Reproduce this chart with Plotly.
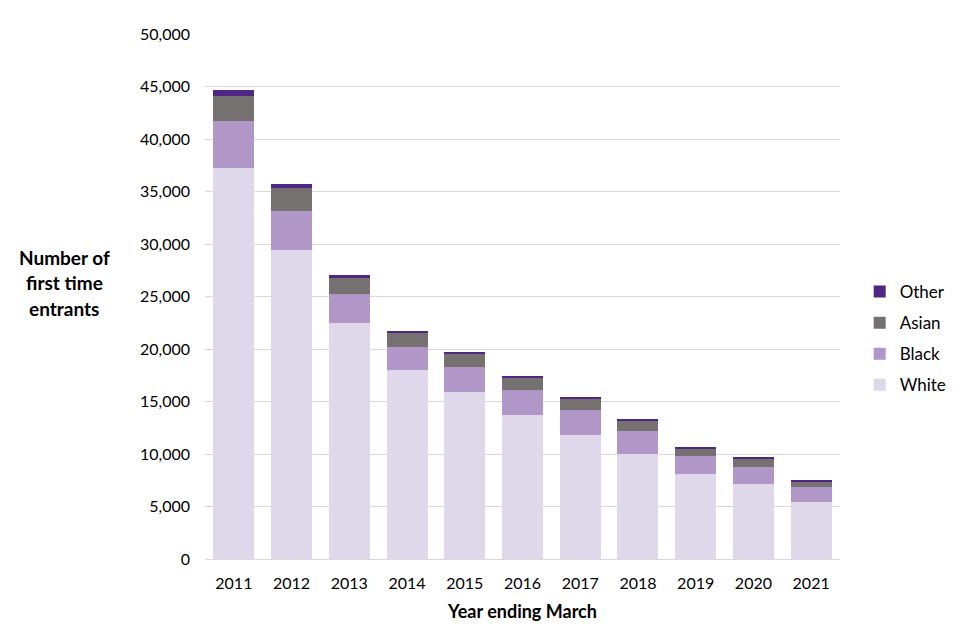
import plotly.graph_objects as go

years = ["2011", "2012", "2013", "2014", "2015", "2016", "2017", "2018", "2019", "2020", "2021"]
white = [37200, 29400, 22500, 18000, 15900, 13700, 11800, 10000, 8100, 7150, 5450]
black = [4500, 3700, 2750, 2200, 2400, 2400, 2400, 2200, 1700, 1600, 1400]
asian = [2400, 2200, 1500, 1350, 1250, 1150, 1050, 950, 750, 750, 550]
other = [550, 400, 300, 200, 200, 200, 200, 100, 100, 200, 100]

series = [("White", white, "#DFD7EA", 4), ("Black", black, "#B196C8", 3),
          ("Asian", asian, "#767171", 2), ("Other", other, "#4F2683", 1)]

FONT = "Lato"
fig = go.Figure()
for name, vals, col, rank in series:
    fig.add_trace(go.Bar(x=years, y=vals, name=name, marker_color=col,
                         marker_line_width=0, legendgroup=name, legendrank=rank))

fig.update_layout(
    width=960, height=640,
    barmode="stack", bargap=0.29,
    plot_bgcolor="white", paper_bgcolor="white",
    margin=dict(l=197, r=128, t=26, b=89),
    font=dict(family=FONT, size=16, color="#000000"),
    showlegend=True,
    legend=dict(traceorder="grouped", tracegroupgap=6,
                x=1.031, xanchor="left", y=0.42, yanchor="middle",
                font=dict(size=17), itemwidth=30),
    xaxis=dict(showgrid=False, showline=True, linecolor="#D9D9D9",
               ticks="", tickfont=dict(size=16), ticklabelstandoff=10,
               title=dict(text="<b>Year ending March</b>", font=dict(size=18), standoff=14)),
    yaxis=dict(range=[0, 50000], dtick=5000, tickformat=",",
               showgrid=True, gridcolor="#D9D9D9", gridwidth=1,
               zeroline=False, showline=False, ticks="",
               ticklabelstandoff=14, tickfont=dict(size=16)),
)

for i, line in enumerate(["Number of", "first time", "entrants"]):
    fig.add_annotation(text="<b>%s</b>" % line, xref="paper", yref="paper",
                       x=(64 - 205) / 635, y=(559 - (257 + 25.5 * i)) / 525,
                       xanchor="center", yanchor="middle", showarrow=False,
                       font=dict(size=19, family=FONT))

fig.write_html("out.html")
